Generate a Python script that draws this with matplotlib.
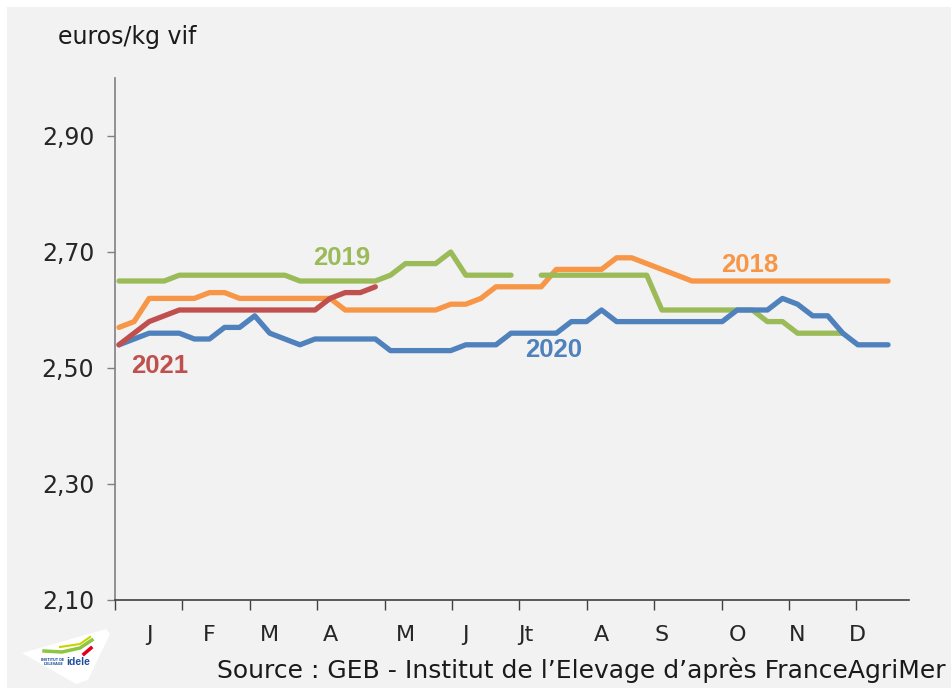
import numpy as np
import matplotlib
matplotlib.use("Agg")
import matplotlib.pyplot as plt
from matplotlib.patches import Rectangle, Polygon

nan = np.nan

# weekly prices, euros/kg vif (week index 0..51)
weeks = np.arange(52)

prix_2018 = [2.57, 2.58, 2.62, 2.62, 2.62, 2.62, 2.63, 2.63, 2.62, 2.62,
             2.62, 2.62, 2.62, 2.62, 2.62, 2.60, 2.60, 2.60, 2.60, 2.60,
             2.60, 2.60, 2.61, 2.61, 2.62, 2.64, 2.64, 2.64, 2.64, 2.67,
             2.67, 2.67, 2.67, 2.69, 2.69, 2.68, 2.67, 2.66, 2.65, 2.65,
             2.65, 2.65, 2.65, 2.65, 2.65, 2.65, 2.65, 2.65, 2.65, 2.65,
             2.65, 2.65]

prix_2019 = [2.65, 2.65, 2.65, 2.65, 2.66, 2.66, 2.66, 2.66, 2.66, 2.66,
             2.66, 2.66, 2.65, 2.65, 2.65, 2.65, 2.65, 2.65, 2.66, 2.68,
             2.68, 2.68, 2.70, 2.66, 2.66, 2.66, 2.66, nan, 2.66, 2.66,
             2.66, 2.66, 2.66, 2.66, 2.66, 2.66, 2.60, 2.60, 2.60, 2.60,
             2.60, 2.60, 2.60, 2.58, 2.58, 2.56, 2.56, 2.56, 2.56, nan,
             nan, nan]

prix_2020 = [2.54, 2.55, 2.56, 2.56, 2.56, 2.55, 2.55, 2.57, 2.57, 2.59,
             2.56, 2.55, 2.54, 2.55, 2.55, 2.55, 2.55, 2.55, 2.53, 2.53,
             2.53, 2.53, 2.53, 2.54, 2.54, 2.54, 2.56, 2.56, 2.56, 2.56,
             2.58, 2.58, 2.60, 2.58, 2.58, 2.58, 2.58, 2.58, 2.58, 2.58,
             2.58, 2.60, 2.60, 2.60, 2.62, 2.61, 2.59, 2.59, 2.56, 2.54,
             2.54, 2.54]

prix_2021 = [2.54, 2.56, 2.58, 2.59, 2.60, 2.60, 2.60, 2.60, 2.60, 2.60,
             2.60, 2.60, 2.60, 2.60, 2.62, 2.63, 2.63, 2.64]

mois = ['J', 'F', 'M', 'A', 'M', 'J', 'Jt', 'A', 'S', 'O', 'N', 'D']
mois_semaine = [2, 6, 10, 14, 19, 23, 27, 32, 36, 41, 45, 49]
yticks = [2.10, 2.30, 2.50, 2.70, 2.90]

series = [
    ('2018', prix_2018, '#F79646', (41.8, 2.678)),
    ('2019', prix_2019, '#9BBB59', (14.8, 2.690)),
    ('2020', prix_2020, '#4F81BD', (28.8, 2.531)),
    ('2021', prix_2021, '#C0504D', (2.7, 2.503)),
]

plt.rcParams['font.family'] = ['DejaVu Sans']

fig = plt.figure(figsize=(9.53, 6.88), dpi=100)
fig.patch.set_facecolor('white')
fig.patches.append(Rectangle((7 / 953, 0), 944 / 953, 681 / 688,
                             transform=fig.transFigure, facecolor='#f2f2f2',
                             edgecolor='none', zorder=-10))

ax = fig.add_axes([115 / 953, 1 - 600 / 688, 794 / 953, 522 / 688])
ax.set_facecolor('none')

for name, vals, color, pos in series:
    ax.plot(weeks[:len(vals)], vals, color=color, lw=3.8,
            solid_capstyle='round', solid_joinstyle='round')
    ax.text(pos[0], pos[1], name, color=color, fontsize=18.5, fontweight='bold',
            ha='center', va='center', family=['Liberation Sans'])

ax.set_xlim(-0.265, 52.39)
ax.set_ylim(2.10, 3.00)
ax.set_yticks(yticks)
ax.set_yticklabels([f'{v:.2f}'.replace('.', ',') for v in yticks])
ax.tick_params(axis='y', length=6, width=1, color='#808080', labelsize=17,
               labelcolor='#262626', pad=9)

# tick marks every ~4.47 weeks, month labels at first week of each month
ax.set_xticks([-0.265 + 4.47 * k for k in range(12)])
ax.set_xticklabels([])
ax.tick_params(axis='x', length=7, width=1, color='#404040', direction='out')
for m, w in zip(mois, mois_semaine):
    ax.text(w, -0.068, m, transform=ax.get_xaxis_transform(), ha='center',
            va='center', fontsize=16, color='#262626')

for s in ['top', 'right']:
    ax.spines[s].set_visible(False)
ax.spines['left'].set_color('#808080')
ax.spines['bottom'].set_color('#404040')
ax.spines['left'].set_linewidth(1.2)
ax.spines['bottom'].set_linewidth(1.2)

fig.text(58 / 953, 1 - 37 / 688, 'euros/kg vif', fontsize=17, color='#1a1a1a',
         ha='left', va='center')
fig.text(946 / 953, 1 - 670 / 688,
         'Source : GEB - Institut de l\u2019Elevage d\u2019apr\u00e8s FranceAgriMer',
         fontsize=18, color='#1a1a1a', ha='right', va='center')

# logo idele (approximation)
def fx(px):
    return px / 953

def fy(py):
    return 1 - py / 688

logo = Polygon([(fx(22), fy(653)), (fx(106), fy(629)), (fx(110), fy(634)),
                (fx(88), fy(680)), (fx(76), fy(684))], closed=True,
               transform=fig.transFigure, facecolor='white', edgecolor='none',
               joinstyle='round')
fig.patches.append(logo)
fig.lines.append(plt.Line2D([fx(44), fx(62), fx(80), fx(92)],
                            [fy(651), fy(652), fy(648), fy(640)],
                            transform=fig.transFigure, color='#8DC63F', lw=2.5))
fig.lines.append(plt.Line2D([fx(60), fx(80), fx(90)],
                            [fy(647), fy(644), fy(637)],
                            transform=fig.transFigure, color='#C8D400', lw=1.5))
fig.lines.append(plt.Line2D([fx(84), fx(91)], [fy(654), fy(648)],
                            transform=fig.transFigure, color='#E2001A', lw=2.5))
fig.text(fx(64), fy(662), "INSTITUT DE\nL'ELEVAGE", fontsize=2.4,
         color='#1f4e9c', ha='right', va='center', fontweight='bold',
         linespacing=1.0)
fig.text(fx(66), fy(662), 'idele', fontsize=7.5, color='#1f4e9c',
         ha='left', va='center', fontweight='bold',
         family=['Liberation Sans'])

fig.savefig('out.png', dpi=100, facecolor=fig.get_facecolor())
